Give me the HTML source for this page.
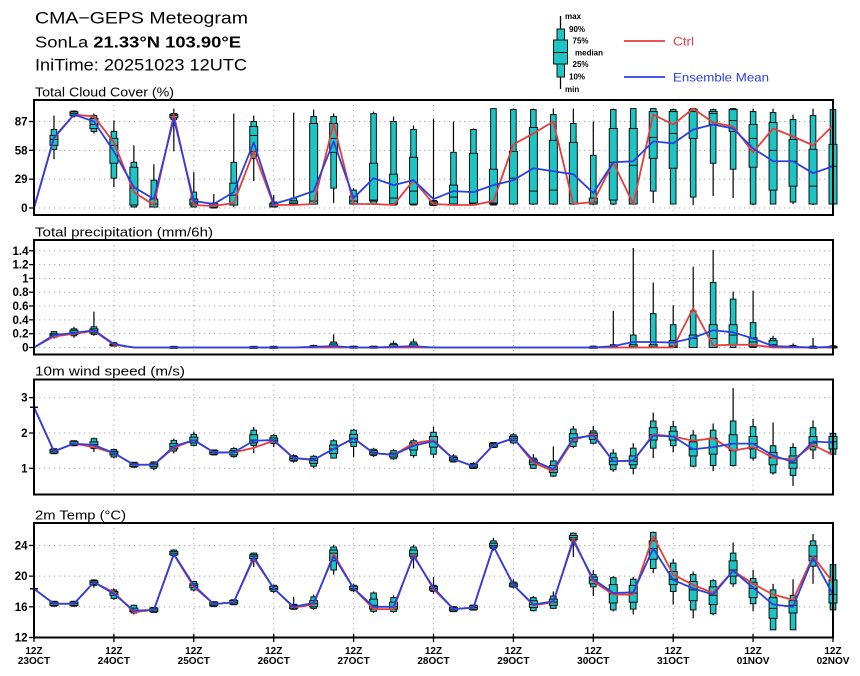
<!DOCTYPE html>
<html>
<head>
<meta charset="utf-8">
<style>
html,body{margin:0;padding:0;background:#fff;}
svg{display:block;}
text{font-family:"Liberation Sans",sans-serif;}
.tk{font-size:11.5px;font-weight:bold;text-anchor:end;}
.xl{font-size:10px;font-weight:bold;text-anchor:middle;}
.lg{font-size:8px;font-weight:bold;}
.pt{font-size:12.5px;}
</style>
</head>
<body>
<svg id="s" width="860" height="676" xmlns="http://www.w3.org/2000/svg">
<rect x="0" y="0" width="860" height="676" fill="#fff"/>
<!-- Header -->
<text x="35" y="23.5" font-size="17" textLength="213" lengthAdjust="spacingAndGlyphs">CMA−GEPS Meteogram</text>
<text x="35" y="47.5" font-size="15.5" textLength="206" lengthAdjust="spacingAndGlyphs">SonLa <tspan font-weight="bold">21.33°N 103.90°E</tspan></text>
<text x="35" y="70.5" font-size="16.5" textLength="212" lengthAdjust="spacingAndGlyphs">IniTime: 20251023 12UTC</text>

<!-- Legend -->
<line x1="560.5" y1="16" x2="560.5" y2="89" stroke="#000" stroke-width="1.3"/>
<rect x="557" y="29" width="7.5" height="48" fill="#1cc4c4" stroke="#111" stroke-width="1"/>
<rect x="553.5" y="40" width="14" height="24" fill="#1cc4c4" stroke="#111" stroke-width="1"/>
<line x1="553.5" y1="52.5" x2="567.5" y2="52.5" stroke="#111" stroke-width="1"/>
<text class="lg" x="565" y="19">max</text>
<text class="lg" x="569" y="32">90%</text>
<text class="lg" x="572.5" y="43.5">75%</text>
<text class="lg" x="575" y="55.5">median</text>
<text class="lg" x="572.5" y="67">25%</text>
<text class="lg" x="569" y="79.5">10%</text>
<text class="lg" x="565" y="92">min</text>
<line x1="624" y1="41" x2="665" y2="41" stroke="#e83c3c" stroke-width="1.8"/>
<text x="673" y="45.5" font-size="12" fill="#e83c3c" textLength="21" lengthAdjust="spacingAndGlyphs">Ctrl</text>
<line x1="624" y1="77" x2="665" y2="77" stroke="#2a40e0" stroke-width="1.8"/>
<text x="673" y="81.5" font-size="12" fill="#2a40e0" textLength="96" lengthAdjust="spacingAndGlyphs">Ensemble Mean</text>

<!-- Panel titles -->
<text class="pt" x="35" y="96.5" textLength="139" lengthAdjust="spacingAndGlyphs">Total Cloud Cover (%)</text>
<text class="pt" x="35" y="236.5" textLength="178" lengthAdjust="spacingAndGlyphs">Total precipitation (mm/6h)</text>
<text class="pt" x="35" y="375.5" textLength="150" lengthAdjust="spacingAndGlyphs">10m wind speed (m/s)</text>
<text class="pt" x="35" y="519.5" textLength="91" lengthAdjust="spacingAndGlyphs">2m Temp (°C)</text>

<!-- Y tick labels -->
<text class="tk" x="27.5" y="125.5">87</text>
<text class="tk" x="27.5" y="154.3">58</text>
<text class="tk" x="27.5" y="183.2">29</text>
<text class="tk" x="27.5" y="212">0</text>

<text class="tk" x="28.5" y="254.8">1.4</text>
<text class="tk" x="28.5" y="268.6">1.2</text>
<text class="tk" x="28.5" y="282.4">1</text>
<text class="tk" x="28.5" y="296.2">0.8</text>
<text class="tk" x="28.5" y="310">0.6</text>
<text class="tk" x="28.5" y="323.9">0.4</text>
<text class="tk" x="28.5" y="337.7">0.2</text>
<text class="tk" x="28.5" y="351.5">0</text>

<text class="tk" x="27.5" y="401.7">3</text>
<text class="tk" x="27.5" y="437">2</text>
<text class="tk" x="27.5" y="472.3">1</text>

<text class="tk" x="27.5" y="549.5">24</text>
<text class="tk" x="27.5" y="580.2">20</text>
<text class="tk" x="27.5" y="610.8">16</text>
<text class="tk" x="27.5" y="641.5">12</text>

<!-- X labels -->
<text class="xl" x="34" y="654">12Z</text><text class="xl" x="34" y="664">23OCT</text>
<text class="xl" x="113.9" y="654">12Z</text><text class="xl" x="113.9" y="664">24OCT</text>
<text class="xl" x="193.8" y="654">12Z</text><text class="xl" x="193.8" y="664">25OCT</text>
<text class="xl" x="273.7" y="654">12Z</text><text class="xl" x="273.7" y="664">26OCT</text>
<text class="xl" x="353.6" y="654">12Z</text><text class="xl" x="353.6" y="664">27OCT</text>
<text class="xl" x="433.5" y="654">12Z</text><text class="xl" x="433.5" y="664">28OCT</text>
<text class="xl" x="513.4" y="654">12Z</text><text class="xl" x="513.4" y="664">29OCT</text>
<text class="xl" x="593.3" y="654">12Z</text><text class="xl" x="593.3" y="664">30OCT</text>
<text class="xl" x="673.2" y="654">12Z</text><text class="xl" x="673.2" y="664">31OCT</text>
<text class="xl" x="753.1" y="654">12Z</text><text class="xl" x="753.1" y="664">01NOV</text>
<text class="xl" x="833" y="654">12Z</text><text class="xl" x="833" y="664">02NOV</text>

<g id="g"></g>
</svg>
<script>
(function(){
var C=[
[0,0,0,0,0,0,0,0,0],
[49,59,63,69,73,79,93,70,71],
[91,93,94,95,96,97,98,94,94],
[75,77,80,84,90,93,95,92,87],
[21,30,45,63,70,77,88,66,57],
[1,1,3,20,41,46,63,16,21],
[1,1,1,4,9,28,44,3,9],
[57,89,91,93,94,95,100,94,90],
[1,1,3,5,9,16,36,3,7],
[1,1,2,2,3,4,14,2,4],
[1,3,3,13,25,46,95,5,16],
[27,50,57,73,82,87,93,57,66],
[1,2,2,3,4,5,13,3,4],
[3,3,4,5,7,10,96,3,10],
[3,4,4,7,85,92,99,4,17],
[5,20,56,70,85,92,95,85,67],
[3,4,4,7,12,18,20,4,10],
[3,4,7,8,45,95,97,4,30],
[3,3,4,10,34,87,92,3,23],
[3,3,4,17,51,79,83,28,28],
[3,3,4,5,6,7,90,4,9],
[3,3,4,11,23,56,87,3,17],
[3,3,4,5,55,79,80,3,16],
[3,3,4,5,39,100,100,7,23],
[3,4,4,30,57,99,100,64,28],
[3,4,4,17,81,99,100,75,40],
[3,4,4,18,68,94,100,87,37],
[3,4,4,4,66,85,100,4,34],
[3,4,4,6,10,53,87,6,15],
[3,4,8,46,80,99,100,46,46],
[3,4,4,43,80,100,100,4,47],
[5,17,50,71,97,100,100,94,67],
[4,4,40,75,97,99,100,84,65],
[3,11,70,97,99,100,100,100,79],
[12,45,84,95,97,99,100,86,84],
[10,39,77,88,99,100,100,82,80],
[3,4,41,70,84,97,100,56,60],
[4,4,18,58,86,96,100,80,47],
[4,6,22,47,69,89,94,72,47],
[3,4,4,22,59,93,100,63,35],
[3,4,4,42,64,99,100,83,42]
];
var Z=[0,0,0,0,0,0,0,0,0];
var R=[
Z,
[0.13,0.15,0.16,0.18,0.2,0.23,0.24,0.16,0.18],
[0.14,0.17,0.19,0.22,0.25,0.27,0.3,0.2,0.21],
[0.17,0.19,0.21,0.24,0.27,0.3,0.52,0.24,0.25],
[0.02,0.02,0.03,0.04,0.05,0.07,0.08,0.04,0.05],
Z,Z,
[0,0,0,0,0,0.005,0.01,0,0],
Z,Z,Z,
[0,0,0,0,0,0.005,0.01,0,0],
[0,0,0,0,0,0.005,0.01,0,0],
Z,
[0,0,0,0.01,0.02,0.03,0.04,0,0.01],
[0,0,0,0.02,0.05,0.08,0.19,0,0.02],
[0,0,0,0,0.005,0.01,0.02,0,0],
[0,0,0,0,0.005,0.01,0.02,0,0],
[0,0,0,0.01,0.04,0.06,0.1,0,0.01],
[0,0,0,0.02,0.05,0.08,0.13,0,0.02],
Z,Z,Z,Z,Z,Z,Z,Z,
[0,0,0,0,0,0.01,0.02,0,0],
[0,0,0,0,0.02,0.04,0.53,0,0.02],
[0,0,0,0.01,0.04,0.18,1.44,0,0.08],
[0,0,0,0.01,0.04,0.49,0.94,0,0.08],
[0,0,0,0.02,0.1,0.33,0.61,0,0.07],
[0,0,0,0.13,0.18,0.53,1.17,0.57,0.14],
[0,0,0,0.13,0.33,0.94,1.41,0.03,0.25],
[0,0,0.04,0.18,0.33,0.7,0.81,0.04,0.22],
[0,0,0.01,0.08,0.14,0.36,0.82,0.04,0.13],
[0,0,0.01,0.04,0.1,0.13,0.17,0,0.02],
[0,0,0,0.01,0.02,0.03,0.06,0,0.01],
[0,0,0,0,0,0.01,0.14,0,0],
[0,0,0,0,0.01,0.02,0.03,0,0.01]
];
var W=[
[2.73,2.73,2.73,2.73,2.73,2.73,2.73,2.73,2.73],
[1.43,1.45,1.46,1.48,1.5,1.52,1.54,1.48,1.48],
[1.66,1.68,1.69,1.7,1.72,1.74,1.76,1.7,1.7],
[1.46,1.56,1.6,1.68,1.75,1.84,1.87,1.6,1.66],
[1.28,1.32,1.38,1.43,1.48,1.53,1.56,1.43,1.43],
[1.04,1.06,1.08,1.1,1.12,1.14,1.16,1.1,1.1],
[0.94,1.0,1.05,1.1,1.14,1.18,1.2,1.1,1.1],
[1.42,1.49,1.55,1.62,1.7,1.79,1.84,1.58,1.62],
[1.62,1.65,1.72,1.8,1.88,1.96,2.04,1.8,1.8],
[1.38,1.4,1.42,1.45,1.48,1.5,1.53,1.45,1.45],
[1.3,1.33,1.38,1.45,1.5,1.56,1.6,1.45,1.45],
[1.43,1.65,1.72,1.8,1.95,2.08,2.17,1.58,1.78],
[1.6,1.7,1.75,1.8,1.86,1.93,1.98,1.78,1.8],
[1.16,1.2,1.24,1.28,1.32,1.36,1.4,1.29,1.29],
[1.0,1.06,1.14,1.22,1.28,1.34,1.38,1.24,1.24],
[1.28,1.29,1.42,1.55,1.66,1.78,1.83,1.55,1.55],
[1.31,1.62,1.74,1.85,1.96,2.08,2.12,1.85,1.85],
[1.32,1.36,1.4,1.45,1.5,1.54,1.58,1.43,1.43],
[1.24,1.27,1.32,1.38,1.43,1.5,1.54,1.38,1.38],
[1.3,1.36,1.52,1.65,1.72,1.78,1.84,1.71,1.64],
[1.29,1.4,1.6,1.75,1.9,2.02,2.18,1.8,1.77],
[1.16,1.18,1.22,1.26,1.3,1.35,1.4,1.26,1.26],
[0.98,1.0,1.03,1.06,1.1,1.13,1.18,1.06,1.06],
[1.6,1.61,1.63,1.66,1.68,1.71,1.73,1.66,1.66],
[1.68,1.72,1.78,1.85,1.9,1.95,2.0,1.85,1.85],
[0.98,1.0,1.1,1.18,1.24,1.29,1.4,1.16,1.22],
[0.75,0.78,0.88,0.97,1.08,1.21,1.62,0.92,0.97],
[1.57,1.62,1.75,1.85,1.98,2.11,2.2,1.8,1.85],
[1.68,1.71,1.82,1.93,2.0,2.06,2.2,1.97,1.93],
[0.9,0.96,1.1,1.2,1.3,1.43,1.54,1.2,1.2],
[0.83,1.0,1.1,1.2,1.35,1.57,1.71,1.21,1.22],
[1.29,1.57,1.8,1.95,2.15,2.34,2.58,1.96,1.93],
[1.45,1.64,1.8,1.9,2.05,2.18,2.34,1.9,1.9],
[1.03,1.06,1.35,1.54,1.75,1.94,2.08,1.78,1.54],
[0.92,1.08,1.4,1.6,1.85,2.08,2.27,1.85,1.6],
[1.05,1.08,1.5,1.7,1.95,2.34,3.27,1.5,1.7],
[1.22,1.29,1.55,1.7,1.9,2.18,2.4,1.6,1.7],
[0.82,0.87,1.1,1.3,1.45,1.64,2.3,1.3,1.36],
[0.5,0.8,1.0,1.15,1.35,1.59,1.71,1.24,1.18],
[1.26,1.52,1.62,1.72,1.9,2.15,2.36,1.66,1.76],
[1.3,1.4,1.55,1.75,1.9,1.99,2.05,1.38,1.73]
];
var T=[
[18.35,18.35,18.35,18.35,18.35,18.35,18.35,18.35,18.35],
[16.1,16.2,16.3,16.4,16.5,16.6,16.7,16.4,16.4],
[16.2,16.3,16.35,16.4,16.45,16.5,16.6,16.4,16.4],
[18.5,18.8,19.0,19.2,19.3,19.5,19.6,19.2,19.2],
[16.9,17.1,17.5,17.8,18.0,18.2,18.4,17.9,17.7],
[15.0,15.2,15.4,15.5,15.8,16.2,16.3,15.3,15.5],
[15.3,15.4,15.5,15.6,15.7,15.8,15.9,15.6,15.6],
[22.5,22.7,22.8,23.0,23.2,23.4,23.5,22.8,22.9],
[18.0,18.2,18.5,18.8,19.0,19.3,19.4,18.6,18.8],
[16.1,16.2,16.3,16.35,16.45,16.5,16.6,16.35,16.35],
[16.3,16.4,16.5,16.6,16.7,16.8,16.9,16.6,16.6],
[21.2,22.0,22.3,22.6,22.8,23.0,23.1,22.3,22.5],
[17.8,18.0,18.3,18.4,18.6,18.8,18.9,18.4,18.4],
[15.6,15.8,15.9,16.0,16.1,16.2,17.3,15.9,16.0],
[15.6,15.8,16.0,16.4,16.8,17.3,17.6,16.3,16.5],
[20.2,20.8,22.0,23.0,23.4,23.8,24.1,22.9,22.6],
[17.9,18.1,18.3,18.4,18.6,18.8,19.0,18.4,18.4],
[15.2,15.4,15.7,16.2,17.0,17.8,18.0,15.7,16.0],
[15.2,15.4,15.7,16.0,16.6,17.2,17.5,15.7,16.0],
[21.0,22.3,22.6,22.9,23.4,23.8,24.1,22.8,22.6],
[17.7,18.0,18.2,18.4,18.6,18.8,19.9,18.3,18.5],
[15.4,15.5,15.6,15.7,15.8,15.9,16.0,15.7,15.7],
[15.6,15.7,15.8,15.9,16.0,16.1,16.2,15.9,15.9],
[23.3,23.6,23.8,24.0,24.3,24.6,25.0,23.9,23.9],
[18.4,18.6,18.7,18.85,19.0,19.2,19.6,18.85,18.85],
[15.4,15.5,15.9,16.3,16.8,17.2,17.4,16.2,16.3],
[15.7,15.8,16.2,16.6,17.0,17.4,18.0,16.6,16.7],
[22.5,24.6,24.8,25.0,25.3,25.6,25.7,24.9,24.6],
[17.4,18.6,19.0,19.5,19.9,20.2,20.8,19.3,19.6],
[15.4,15.6,16.5,17.7,18.9,19.8,20.0,17.6,17.8],
[15.0,15.7,16.6,17.8,18.8,19.6,19.9,17.6,17.9],
[20.4,21.0,22.2,23.6,24.6,25.7,25.8,25.2,23.6],
[16.3,18.0,18.9,19.6,20.6,21.7,22.2,20.2,19.5],
[14.5,15.6,16.8,18.2,19.3,20.2,20.6,18.85,18.4],
[14.9,15.1,16.3,17.5,18.6,19.4,19.6,17.8,17.6],
[18.6,19.0,20.0,20.8,22.0,23.0,24.4,20.7,20.7],
[15.4,16.4,17.2,18.4,19.2,19.7,20.8,19.0,18.5],
[13.0,13.0,14.5,15.8,17.2,18.2,19.0,17.6,16.3],
[13.0,13.0,15.2,16.2,16.8,17.5,19.6,16.9,16.0],
[19.0,21.3,22.0,22.6,24.0,24.6,25.5,22.6,22.4],
[15.4,15.6,16.5,17.6,19.5,21.5,21.8,19.2,17.6]
];
function X(i){return 34+i*19.975;}
var panels=[
 {t:100,b:215,y:function(v){return 208-v*0.994;},h:[0,29,58,87],k:[0,29,58,87],d:C,skip:true,m1:5,m2:3.5},
 {t:240,b:354.5,y:function(v){return 347.5-v*69.1;},h:[0,0.2,0.4,0.6,0.8,1,1.2,1.4],k:[0,0.2,0.4,0.6,0.8,1,1.2,1.4],d:R,skip:true,m1:2,m2:1.5},
 {t:379.5,b:494.5,y:function(v){return 468.3-(v-1)*35.3;},h:[1,2,3],k:[1,2,3],d:W,skip:false,m1:5,m2:3.5},
 {t:523,b:637.5,y:function(v){return 637.5-(v-12)*7.67;},h:[16,20,24],k:[12,16,20,24],d:T,skip:false,m1:5,m2:3.5}
];
var FILL="#1cc4c4",ST="#111",RED="#e83c3c",BLUE="#2a40e0",GR="#a8a8a8";
var s="";
function f(n){return (Math.round(n*100)/100).toString();}
panels.forEach(function(p,pi){
  var yf=p.y,i,k;
  p.h.forEach(function(v){
    var y=yf(v);
    s+='<line x1="34" x2="833" y1="'+f(y)+'" y2="'+f(y)+'" stroke="'+GR+'" stroke-width="1" stroke-dasharray="1.3,3.7"/>';
  });
  for(k=1;k<10;k++){
    var x=X(4*k);
    s+='<line x1="'+f(x)+'" x2="'+f(x)+'" y1="'+p.t+'" y2="'+p.b+'" stroke="'+GR+'" stroke-width="1" stroke-dasharray="1.3,3.7"/>';
  }
  for(i=0;i<p.d.length;i++){
    var d=p.d[i];
    if(p.skip && d[6]-d[0]<1e-9) continue;
    if(!p.skip && i==0){
      var y0=yf(d[3]);
      s+='<line x1="'+f(X(0)-4)+'" x2="'+f(X(0)+4)+'" y1="'+f(y0)+'" y2="'+f(y0)+'" stroke="#000" stroke-width="1.4"/>';
      continue;
    }
    var x=X(i);
    var ys=d.slice(0,7).map(yf);
    s+='<line x1="'+f(x)+'" x2="'+f(x)+'" y1="'+f(ys[6])+'" y2="'+f(ys[0])+'" stroke="#000" stroke-width="1.2"/>';
    var h1=Math.max(ys[1]-ys[5],p.m1), y1=(ys[1]+ys[5])/2-h1/2;
    s+='<rect x="'+f(x-2.8)+'" y="'+f(y1)+'" width="5.6" height="'+f(h1)+'" fill="'+FILL+'" stroke="'+ST+'" stroke-width="1"/>';
    var h2=Math.max(ys[2]-ys[4],p.m2), y2=(ys[2]+ys[4])/2-h2/2;
    s+='<rect x="'+f(x-4)+'" y="'+f(y2)+'" width="8" height="'+f(h2)+'" fill="'+FILL+'" stroke="'+ST+'" stroke-width="1"/>';
    s+='<line x1="'+f(x-4)+'" x2="'+f(x+4)+'" y1="'+f(ys[3])+'" y2="'+f(ys[3])+'" stroke="'+ST+'" stroke-width="1"/>';
  }
  var pr=[],pb=[];
  for(i=0;i<p.d.length;i++){
    pr.push(f(X(i))+','+f(yf(p.d[i][7])));
    pb.push(f(X(i))+','+f(yf(p.d[i][8])));
  }
  s+='<polyline points="'+pr.join(' ')+'" fill="none" stroke="'+RED+'" stroke-width="1.8" stroke-linejoin="round"/>';
  s+='<polyline points="'+pb.join(' ')+'" fill="none" stroke="'+BLUE+'" stroke-width="1.8" stroke-linejoin="round"/>';
  s+='<rect x="34" y="'+p.t+'" width="799" height="'+f(p.b-p.t)+'" fill="none" stroke="#000" stroke-width="2"/>';
  p.k.forEach(function(v){
    var y=yf(v);
    s+='<line x1="29" x2="34" y1="'+f(y)+'" y2="'+f(y)+'" stroke="#000" stroke-width="1.3"/>';
  });
});
for(var k=0;k<=10;k++){
  var x=X(4*k);
  s+='<line x1="'+f(x)+'" x2="'+f(x)+'" y1="634" y2="642" stroke="#000" stroke-width="1.3"/>';
}
document.getElementById("g").innerHTML=s;
})();
</script>
</body>
</html>
